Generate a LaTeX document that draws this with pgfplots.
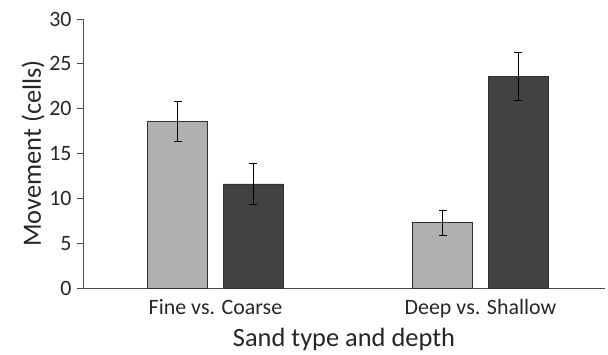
\documentclass[border=0pt]{standalone}
\usepackage{pgfplots}
\pgfplotsset{compat=1.18}
\usepackage{fontspec}
\setmainfont{Carlito}
\definecolor{lightbar}{HTML}{B0B0B0}
\definecolor{darkbar}{HTML}{424242}
\definecolor{edge}{HTML}{303030}
\begin{document}
\begin{tikzpicture}
\begin{axis}[
  scale only axis,
  width=522bp, height=269bp,
  xmin=-0.5, xmax=1.47,
  ymin=0, ymax=30,
  ytick={0,5,...,30},
  xtick={0,1},
  xticklabels={Fine vs. Coarse, Deep vs. Shallow},
  axis x line*=bottom,
  axis y line*=left,
  x axis line style={-, draw=black!70},
  y axis line style={-, draw=black!70},
  xtick style={draw=none},
  ytick style={draw=black!70, line width=0.8pt},
  tick align=outside,
  major tick length=6bp,
  /pgf/number format/assume math mode=true,
  yticklabel style={font=\fontsize{22}{24}\selectfont, text=black!85, xshift=-2bp},
  xticklabel style={font=\fontsize{22}{24}\selectfont, text=black!85, yshift=-2bp},
  ylabel={Movement (cells)},
  xlabel={Sand type and depth},
  label style={font=\fontsize{26.5}{30}\selectfont, text=black!85},
  ylabel style={yshift=-2bp},
  xlabel style={yshift=-3bp},
  ybar, bar width=60bp,
  every axis plot/.append style={draw=edge, line width=0.8pt},
  error bars/y dir=both, error bars/y explicit,
  error bars/error bar style={line width=0.9pt, black},
  error bars/error mark options={rotate=90, mark size=4bp, line width=0.9pt, black},
]
\addplot[fill=lightbar, draw=edge, bar shift=-37.75bp,
  error bars/.cd, y dir=both, y explicit] coordinates {
  (0,18.6) +- (0,2.2)
  (1,7.3) +- (0,1.4)
};
\addplot[fill=darkbar, draw=edge, bar shift=37.75bp,
  error bars/.cd, y dir=both, y explicit] coordinates {
  (0,11.6) +- (0,2.3)
  (1,23.6) +- (0,2.7)
};
\coordinate (O) at (rel axis cs:0,0);
\end{axis}
\path (O) ++(-83bp,-62bp) rectangle ++(608bp,350bp);
\end{tikzpicture}
\end{document}
